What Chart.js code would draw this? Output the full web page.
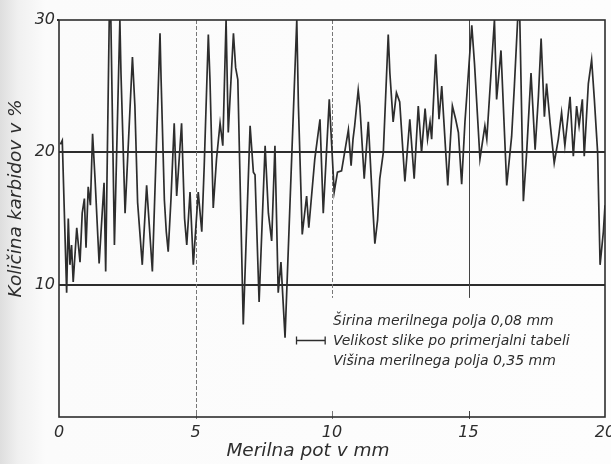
<!DOCTYPE html>
<html lang="sl">
<head>
<meta charset="utf-8">
<title>Količina karbidov</title>
<script src="https://cdn.jsdelivr.net/npm/chart.js@4.4.1/dist/chart.umd.min.js"></script>
<style>
  html, body { margin: 0; padding: 0; }
  body {
    width: 611px; height: 464px; overflow: hidden;
    background: linear-gradient(to right, #dedede 0px, #f0f0f0 18px, #fbfbfb 45px, #fdfdfd 100%);
  }
</style>
</head>
<body>
<canvas id="myChart" width="611" height="464"></canvas>
<script>
const pathMm = [
  0.05, 0.12, 0.28, 0.34, 0.40, 0.46, 0.52, 0.65, 0.77, 0.85, 0.93, 0.99, 1.07, 1.15, 1.23, 1.32,
  1.47, 1.65, 1.71, 1.84, 1.90, 2.03, 2.23, 2.27, 2.42, 2.69, 2.78, 2.88, 3.05, 3.21, 3.42, 3.70,
  3.74, 3.86, 3.93, 4.00, 4.10, 4.22, 4.31, 4.37, 4.49, 4.60, 4.68, 4.80, 4.92, 5.10, 5.23, 5.32,
  5.47, 5.53, 5.65, 5.77, 5.90, 6.00, 6.12, 6.20, 6.39, 6.47, 6.55, 6.75, 7.00, 7.12, 7.18, 7.33,
  7.55, 7.67, 7.79, 7.91, 8.03, 8.13, 8.28, 8.71, 8.77, 8.91, 9.07, 9.15, 9.37, 9.56, 9.68, 9.90,
  10.08, 10.20, 10.35, 10.60, 10.70, 10.77, 10.83, 10.96, 11.02, 11.18, 11.33, 11.45, 11.57, 11.67, 11.75, 11.88,
  12.06, 12.12, 12.24, 12.36, 12.48, 12.67, 12.85, 13.01, 13.16, 13.28, 13.41, 13.50, 13.59, 13.65, 13.80, 13.92,
  14.02, 14.24, 14.41, 14.53, 14.63, 14.75, 14.87, 15.12, 15.22, 15.42, 15.60, 15.67, 15.95, 16.03, 16.19, 16.40,
  16.58, 16.68, 16.80, 16.88, 17.01, 17.13, 17.29, 17.44, 17.56, 17.66, 17.78, 17.86, 17.99, 18.14, 18.29, 18.41,
  18.53, 18.72, 18.84, 18.96, 19.05, 19.17, 19.24, 19.39, 19.51, 19.61, 19.73, 19.82, 19.94, 20.00
];
const carbidePct = [
  20.6, 20.9, 9.4, 15.0, 11.5, 13.0, 10.2, 14.3, 11.7, 15.4, 16.5, 12.8, 17.4, 16.0, 21.4, 18.0,
  11.6, 17.7, 11.0, 30.0, 30.0, 13.0, 30.0, 26.0, 15.4, 27.2, 23.5, 16.2, 11.5, 17.5, 11.0, 29.0,
  25.5, 16.4, 14.0, 12.5, 16.4, 22.2, 16.7, 18.5, 22.2, 15.0, 13.0, 17.0, 11.5, 17.0, 14.0, 19.0,
  28.9, 25.5, 15.8, 19.5, 22.2, 20.5, 30.0, 21.5, 29.0, 26.4, 25.5, 7.0, 22.0, 18.5, 18.3, 8.7,
  20.5, 15.4, 13.3, 20.5, 9.4, 11.7, 6.0, 30.0, 23.5, 13.8, 16.7, 14.3, 19.5, 22.5, 15.4, 24.0,
  17.0, 18.5, 18.6, 21.7, 19.0, 21.0, 22.0, 24.7, 23.5, 18.0, 22.3, 17.5, 13.1, 14.9, 18.0, 20.0,
  28.9, 26.0, 22.3, 24.5, 23.8, 17.8, 22.5, 18.0, 23.5, 20.0, 23.3, 21.0, 22.3, 21.0, 27.4, 22.5,
  25.0, 17.5, 23.5, 22.5, 21.5, 17.6, 22.3, 29.6, 26.7, 19.5, 22.0, 21.0, 30.0, 24.0, 27.7, 17.5,
  21.2, 25.0, 30.0, 30.0, 16.3, 20.0, 26.0, 20.2, 24.2, 28.6, 22.7, 25.2, 22.2, 19.2, 21.0, 23.0,
  20.5, 24.2, 19.7, 23.5, 22.0, 24.0, 19.7, 25.2, 27.0, 24.0, 20.0, 11.5, 14.0, 16.0
];
const xTicks = [0, 5, 10, 15, 20];
const yTicks = [10, 20, 30];
const xGrid = [5, 10, 15];
const xGridLow = [0, 9, 9];   // lower end (in %) of each vertical grid line
const xTitle = 'Merilna pot v mm';
const yTitle = 'Količina karbidov v %';
const noteLines = [
  'Širina merilnega polja 0,08 mm',
  'Velikost slike po primerjalni tabeli',
  'Višina merilnega polja 0,35 mm'
];

const ink = '#2d2d2d';
const fontFam = '"DejaVu Sans", sans-serif';

const points = pathMm.map((x, i) => ({ x: x, y: carbidePct[i] }));

const paperPlugin = {
  id: 'paper',
  beforeDatasetsDraw(chart) {
    const { ctx, chartArea: a, scales: { x, y } } = chart;
    ctx.save();
    xGrid.forEach((v, i) => {
      const px = Math.round(x.getPixelForValue(v)) + 0.5;
      ctx.strokeStyle = v === 15 ? '#444' : '#777';
      ctx.lineWidth = 1;
      ctx.setLineDash(v === 15 ? [] : [4, 2]);
      ctx.beginPath();
      ctx.moveTo(px, a.top);
      ctx.lineTo(px, y.getPixelForValue(xGridLow[i]));
      ctx.stroke();
      // small tick at the bottom
      ctx.setLineDash([]);
      ctx.beginPath();
      ctx.moveTo(px, a.bottom - 6);
      ctx.lineTo(px, a.bottom + 2);
      ctx.stroke();
    });
    ctx.restore();
  },
  afterDraw(chart) {
    const { ctx, chartArea: a, scales: { x, y } } = chart;
    ctx.save();
    // frame
    ctx.strokeStyle = ink;
    ctx.lineWidth = 1.6;
    ctx.strokeRect(a.left, a.top, a.right - a.left, a.bottom - a.top);
    ctx.lineWidth = 2;
    ctx.beginPath();
    ctx.moveTo(a.left - 2, a.top);
    ctx.lineTo(a.left, a.top);
    ctx.stroke();

    ctx.fillStyle = ink;
    // axis titles
    ctx.font = 'italic 18.5px ' + fontFam;
    ctx.textAlign = 'center';
    ctx.textBaseline = 'middle';
    ctx.fillText(xTitle, (a.left + a.right) / 2 - 24, a.bottom + 34);
    ctx.save();
    ctx.translate(a.left - 43, (a.top + a.bottom) / 2 - 20);
    ctx.rotate(-Math.PI / 2);
    ctx.fillText(yTitle, 0, 0);
    ctx.restore();

    // note with scale bar
    ctx.font = 'italic 14px ' + fontFam;
    ctx.textAlign = 'left';
    const tx = x.getPixelForValue(10) + 1;
    noteLines.forEach((t, i) => {
      ctx.fillText(t, tx, y.getPixelForValue(7.2 - i * 1.5));
    });
    const by = Math.round(y.getPixelForValue(5.85)) + 0.5;
    const bx0 = x.getPixelForValue(8.7), bx1 = x.getPixelForValue(9.75);
    ctx.lineWidth = 1.3;
    ctx.beginPath();
    ctx.moveTo(bx0, by); ctx.lineTo(bx1, by);
    ctx.moveTo(bx0, by - 4); ctx.lineTo(bx0, by + 4);
    ctx.moveTo(bx1, by - 4); ctx.lineTo(bx1, by + 4);
    ctx.stroke();
    ctx.restore();
  }
};

new Chart(document.getElementById('myChart'), {
  type: 'line',
  data: {
    datasets: [{
      data: points,
      borderColor: ink,
      borderWidth: 1.7,
      pointRadius: 0,
      tension: 0,
      fill: false
    }]
  },
  options: {
    responsive: false,
    animation: false,
    devicePixelRatio: 1,
    layout: { padding: { top: 20, right: 6, left: 0, bottom: 0 } },
    plugins: { legend: { display: false }, tooltip: { enabled: false } },
    scales: {
      x: {
        type: 'linear',
        min: 0, max: 20,
        afterBuildTicks: s => { s.ticks = xTicks.map(v => ({ value: v })); },
        afterFit: s => { s.height = 47; s.paddingLeft = 0; s.paddingRight = 0; },
        grid: { display: false, drawTicks: false },
        border: { display: false },
        ticks: {
          padding: 6,
          color: ink,
          font: { family: fontFam, size: 16, style: 'italic' }
        }
      },
      y: {
        min: 0, max: 30,
        afterBuildTicks: s => { s.ticks = yTicks.map(v => ({ value: v })); },
        afterFit: s => { s.width = 59; s.paddingTop = 0; s.paddingBottom = 0; },
        grid: {
          drawTicks: false,
          color: c => (c.tick && (c.tick.value === 10 || c.tick.value === 20)) ? ink : 'rgba(0,0,0,0)',
          lineWidth: 2
        },
        border: { display: false },
        ticks: {
          padding: 4,
          color: ink,
          font: { family: fontFam, size: 16, style: 'italic' }
        }
      }
    }
  },
  plugins: [paperPlugin]
});
</script>
</body>
</html>
